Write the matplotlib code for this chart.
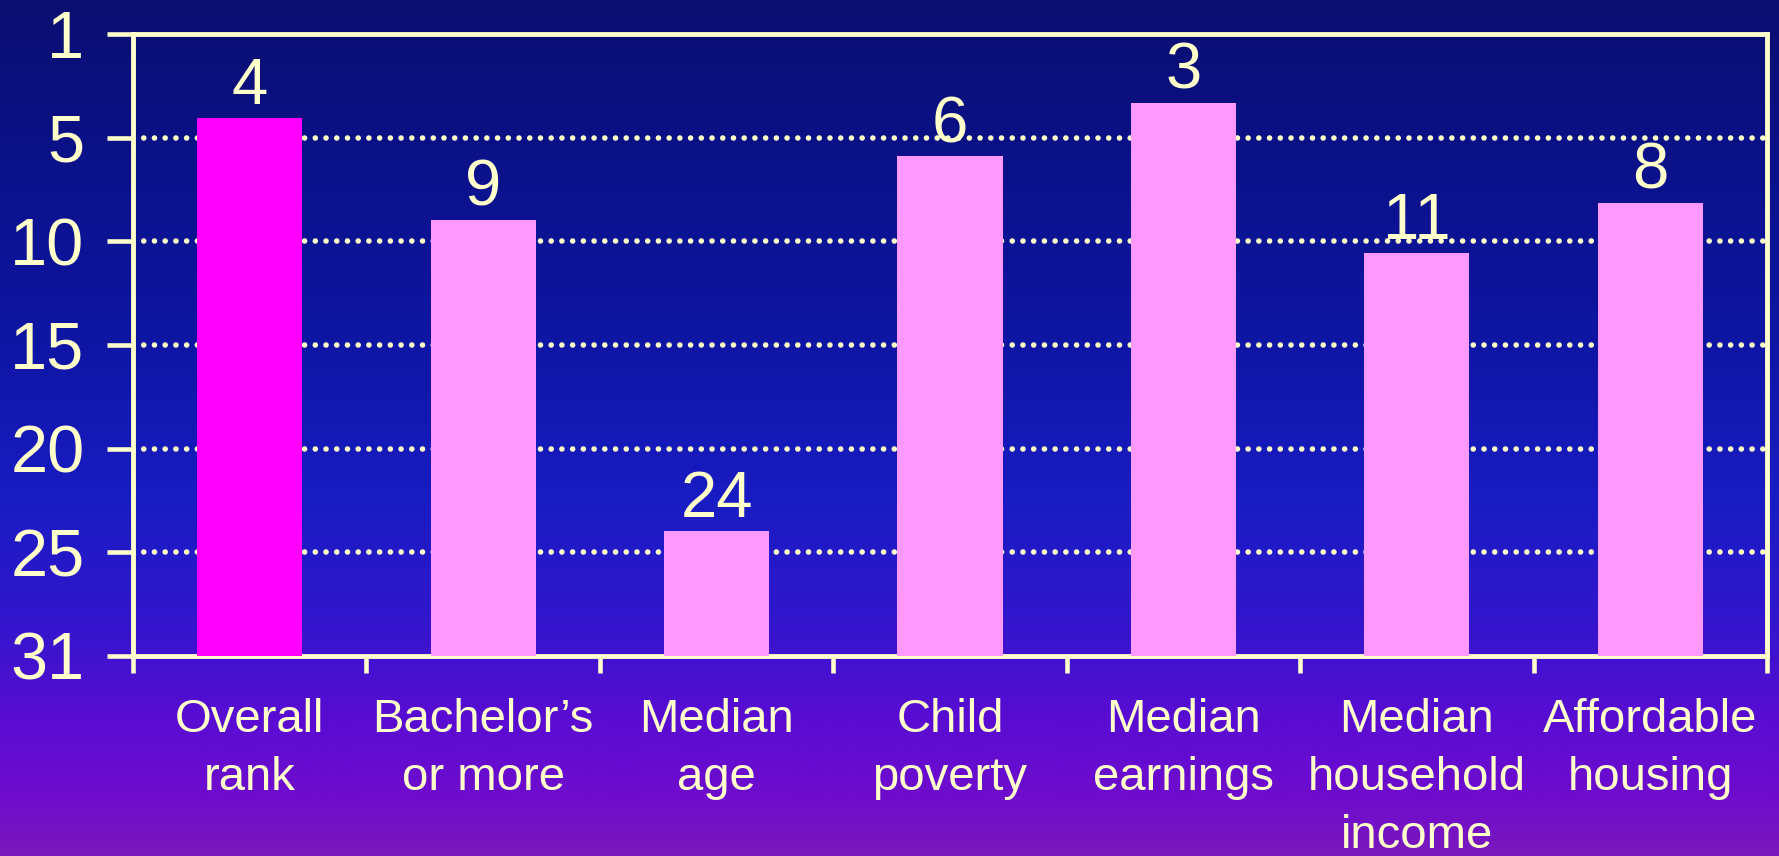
import numpy as np
import matplotlib
matplotlib.use("Agg")
from matplotlib import pyplot as plt

categories = ["Overall\nrank", "Bachelor\u2019s\nor more", "Median\nage", "Child\npoverty",
              "Median\nearnings", "Median\nhousehold\nincome", "Affordable\nhousing"]
ranks = [4, 9, 24, 6, 3, 11, 8]                          # numbers printed over the bars
bar_tops = [4.05, 8.97, 23.97, 5.9, 3.33, 10.56, 8.15]    # where the bars actually end
ytick_pos = [0, 5, 10, 15, 20, 25, 30]
ytick_labels = ["1", "5", "10", "15", "20", "25", "31"]

cream = "#FFFFCC"
plt.rcParams["font.family"] = ["Liberation Sans", "DejaVu Sans"]

fig = plt.figure(figsize=(17.79, 8.56), dpi=100)

# background gradient navy -> purple
stops_y = [0, 150, 350, 500, 620, 720, 800, 856]
stops_c = [(10, 14, 112), (11, 17, 135), (15, 22, 165), (25, 28, 195),
           (50, 22, 205), (90, 12, 210), (112, 12, 205), (122, 25, 188)]
yy = np.arange(856)
grad = np.zeros((856, 1, 3))
for k in range(3):
    grad[:, 0, k] = np.interp(yy, stops_y, [c[k] for c in stops_c]) / 255.0
bg = fig.add_axes([0, 0, 1, 1], zorder=0)
bg.imshow(grad, aspect="auto", extent=[0, 1, 0, 1], origin="upper")
bg.axis("off")

ax = fig.add_axes([133 / 1779, 1 - 656 / 856, (1767 - 133) / 1779, (656 - 34) / 856], zorder=1)
ax.set_facecolor("none")

x = np.arange(len(categories))
colors = ["#FF00FF"] + ["#FF99FF"] * (len(categories) - 1)
ax.bar(x, np.array(bar_tops) - 30, bottom=30, width=0.45, color=colors, zorder=3)

for xi, top, r in zip(x, bar_tops, ranks):
    ax.text(xi, top - 0.68, str(r), ha="center", va="baseline", fontsize=47, color=cream, zorder=4)

ax.set_xlim(-0.5, len(categories) - 0.5)
ax.set_ylim(30, 0)

# dotted gridlines
for yv in ytick_pos[1:-1]:
    ax.axhline(yv, color=cream, lw=4, linestyle=(0, (0.01, 1.92)), dash_capstyle="round", zorder=2)

ax.set_yticks(ytick_pos)
ax.set_yticklabels(ytick_labels)
ax.tick_params(axis="y", direction="out", length=19, width=3.3, pad=16, labelsize=48, colors=cream)

ax.set_xticks(np.arange(len(categories) + 1) - 0.5)
ax.set_xticklabels([])
ax.set_xticks(x, minor=True)
ax.set_xticklabels(categories, minor=True, fontsize=34, color=cream, linespacing=1.42, va="top")
ax.tick_params(axis="x", which="major", direction="out", length=12, width=3.3, colors=cream)
ax.tick_params(axis="x", which="minor", length=0, pad=30)

for s in ax.spines.values():
    s.set_color(cream)
    s.set_linewidth(3.5)

fig.savefig("out.png", dpi=100)
